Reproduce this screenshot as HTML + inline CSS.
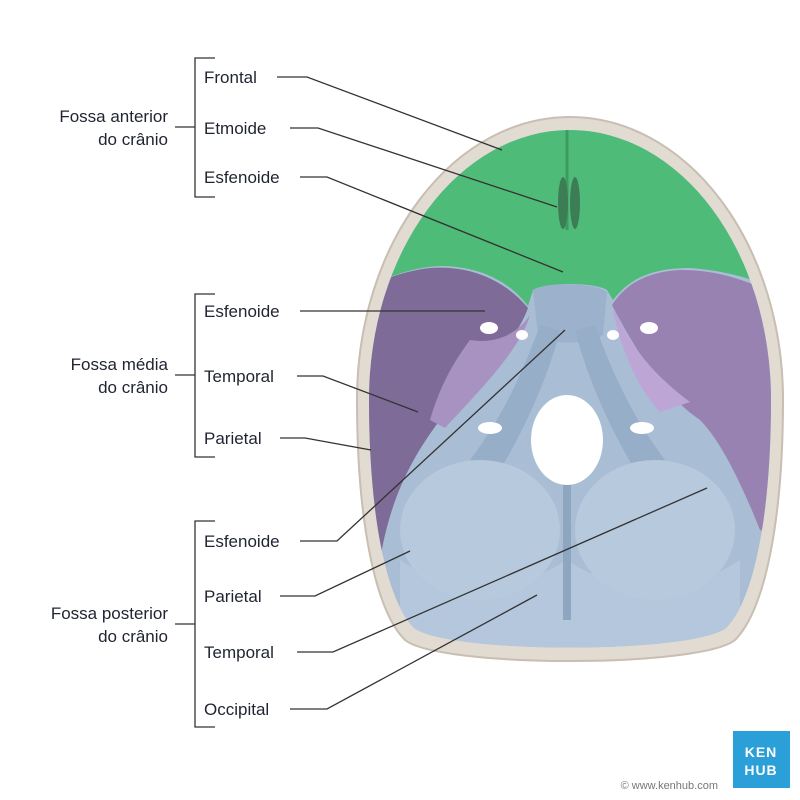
<!DOCTYPE html>
<html><head><meta charset="utf-8"><style>
html,body{margin:0;padding:0;background:#fff;}
svg{display:block;}
text{font-family:"Liberation Sans",sans-serif;fill:#1f2430;}
</style></head><body>
<svg width="800" height="800" viewBox="0 0 800 800" xmlns="http://www.w3.org/2000/svg">
<defs>
<clipPath id="inner">
<path d="M369,400 A201,270 0 0 1 771,400 C771,515 754,600 726,628 C692,654 448,654 414,628 C386,600 369,515 369,400 Z"/>
</clipPath>
</defs>
<path d="M357,400 A213,283 0 0 1 783,400 C783,520 765,610 735,640 C700,668 440,668 405,640 C375,610 357,520 357,400 Z" fill="#e2dbd1" stroke="#c8beb2" stroke-width="2"/>
<g clip-path="url(#inner)">
<rect x="340" y="100" width="460" height="580" fill="#a9bed5"/>
<path d="M400,560 C460,600 520,590 567,560 C610,590 680,600 740,560 L740,660 L400,660 Z" fill="#b4c7dc"/>
<!-- purple left -->
<path d="M350,300 C370,285 395,272 430,268 C470,265 505,280 528,308 C515,345 470,385 440,420 C410,460 390,500 380,560 L350,560 Z" fill="#7f6b98"/>
<path d="M470,340 C500,345 520,330 530,315 C520,350 480,390 445,428 L430,420 C440,385 455,360 470,340 Z" fill="#a892c2"/>
<!-- purple right -->
<path d="M612,305 C625,285 645,272 680,270 C720,270 745,280 790,300 L790,540 L760,530 C740,480 720,440 700,420 C670,400 640,360 612,305 Z" fill="#9882b2"/>
<path d="M612,305 C630,345 650,372 690,402 L660,412 C640,392 620,350 612,305 Z" fill="#bda6d6"/>
<!-- green -->
<path d="M340,100 L800,100 L800,302 C770,285 740,272 690,268 C650,268 628,280 613,300 L607,290 C595,282 545,282 533,290 L528,306 C510,282 480,266 440,266 C400,268 370,285 340,305 Z" fill="#4fbb79"/>
<path d="M567,125 L567,230" stroke="#3f9a62" stroke-width="3"/>
<ellipse cx="563" cy="203" rx="5" ry="26" fill="#3d7d55"/>
<ellipse cx="575" cy="203" rx="5" ry="26" fill="#3d7d55"/>
<!-- sphenoid body -->
<path d="M533,290 C548,282 592,282 607,292 L603,335 C590,345 548,345 538,335 Z" fill="#9cb2cc"/>
<path d="M540,325 C520,380 500,420 470,460 L500,470 C530,420 550,370 560,330 Z" fill="#97aec9"/>
<path d="M595,325 C615,380 635,420 665,460 L635,470 C605,420 585,370 575,330 Z" fill="#97aec9"/>
<ellipse cx="480" cy="530" rx="80" ry="70" fill="#b7c9dd"/>
<ellipse cx="655" cy="530" rx="80" ry="70" fill="#b7c9dd"/>
<path d="M567,480 L567,620" stroke="#8fa6c0" stroke-width="8"/>
<ellipse cx="489" cy="328" rx="9" ry="6" fill="#fff"/>
<ellipse cx="649" cy="328" rx="9" ry="6" fill="#fff"/>
<ellipse cx="522" cy="335" rx="6" ry="5" fill="#fff"/>
<ellipse cx="613" cy="335" rx="6" ry="5" fill="#fff"/>
<ellipse cx="490" cy="428" rx="12" ry="6" fill="#fff"/>
<ellipse cx="642" cy="428" rx="12" ry="6" fill="#fff"/>
</g>
<ellipse cx="567" cy="440" rx="36" ry="45" fill="#fff"/>

<g stroke="#333" stroke-width="1.3" fill="none">
<path d="M215,58 H195 V197 H215 M195,127 H175"/>
<path d="M215,294 H195 V457 H215 M195,375 H175"/>
<path d="M215,521 H195 V727 H215 M195,624 H175"/>
<path d="M277,77 H307 L502,150"/>
<path d="M290,128 H318 L557,207"/>
<path d="M300,177 H327 L563,272"/>
<path d="M300,311 H485"/>
<path d="M297,376 H323 L418,412"/>
<path d="M280,438 H305 L371,450"/>
<path d="M300,541 H337 L565,330"/>
<path d="M280,596 H315 L410,551"/>
<path d="M297,652 H333 L707,488"/>
<path d="M290,709 H327 L537,595"/>
</g>
<g font-size="17">
<text x="204" y="83">Frontal</text>
<text x="204" y="134">Etmoide</text>
<text x="204" y="183">Esfenoide</text>
<text x="204" y="317">Esfenoide</text>
<text x="204" y="382">Temporal</text>
<text x="204" y="444">Parietal</text>
<text x="204" y="547">Esfenoide</text>
<text x="204" y="602">Parietal</text>
<text x="204" y="658">Temporal</text>
<text x="204" y="715">Occipital</text>
</g>
<g font-size="17" text-anchor="end">
<text x="168" y="122">Fossa anterior</text>
<text x="168" y="145">do crânio</text>
<text x="168" y="370">Fossa média</text>
<text x="168" y="393">do crânio</text>
<text x="168" y="619">Fossa posterior</text>
<text x="168" y="642">do crânio</text>
</g>
<rect x="733" y="731" width="57" height="57" fill="#2a9fd8"/>
<text x="761" y="757" font-size="14" font-weight="bold" text-anchor="middle" style="fill:#fff" letter-spacing="1">KEN</text>
<text x="761" y="775" font-size="14" font-weight="bold" text-anchor="middle" style="fill:#fff" letter-spacing="1">HUB</text>
<text x="718" y="789" font-size="11" text-anchor="end" style="fill:#777">© www.kenhub.com</text>
</svg>
</body></html>
